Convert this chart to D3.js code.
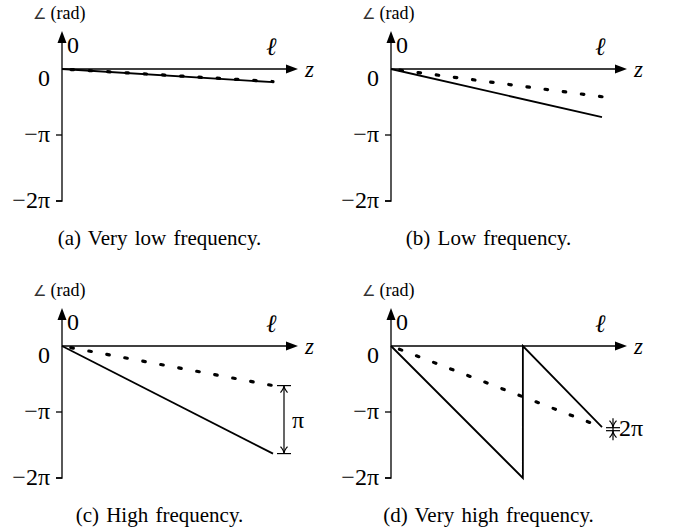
<!DOCTYPE html>
<html>
<head>
<meta charset="utf-8">
<script src="https://cdn.jsdelivr.net/npm/d3@7"></script>
<style>
  body { margin: 0; background: #fff; }
  text { font-family: "Liberation Serif", "Times New Roman", serif; fill: #000; }
</style>
</head>
<body>
<div class="phase_box"></div>
<script>
// phase values are in units of pi, z in units of l
var captions = ["(a) Very low frequency.", "(b) Low frequency.", "(c) High frequency.", "(d) Very high frequency."];
var tickValues = [0, -1, -2];
var tickLabels = ["0", "\u2212\u03c0", "\u22122\u03c0"];
var solidPhase = [
  [[0, 0], [1, -0.2]],
  [[0, 0], [1, -0.73]],
  [[0, 0], [1, -1.63]],
  [[0, 0], [0.625, -2], [0.625, 0], [1, -1.23]]
];
var dashedPhase = [
  [[0, 0], [1, -0.19]],
  [[0, 0], [1, -0.42]],
  [[0, 0], [1, -0.6]],
  [[0, 0], [1, -1.23]]
];
var gapLabels = [null, null, "\u03c0", "2\u03c0"];

var width = 676, height = 528;
var origins = [[62, 69], [391, 69], [62, 346], [391, 346]];

var svg = d3.select('.phase_box')
            .append("svg")
            .attr("width", width)
            .attr("height", height);

var x = d3.scaleLinear().domain([0, 1]).range([0, 211]);
var y = d3.scaleLinear().domain([0, -2]).range([0, 132]);

var line = d3.line()
  .x(function(d) { return x(d[0]); })
  .y(function(d) { return y(d[1]); });

function openHead(g, cx, cy, dir) {
  // little "to" style arrowhead, dir = 1 points down, -1 points up
  g.append("path")
    .attr("d", "M" + (cx - 3.5) + "," + (cy - dir * 7) + " Q" + cx + "," + (cy - dir * 3) + " " + cx + "," + cy +
               " Q" + cx + "," + (cy - dir * 3) + " " + (cx + 3.5) + "," + (cy - dir * 7))
    .attr("fill", "none")
    .attr("stroke", "black")
    .attr("stroke-width", 1.2);
}

captions.forEach(function(cap, i) {
  var g = svg.append("g")
    .attr("transform", "translate(" + origins[i][0] + "," + origins[i][1] + ")");

  // axes
  g.append("path")
    .attr("d", "M-6," + y(-2) + " H0 V-28")
    .attr("fill", "none")
    .attr("stroke", "black")
    .attr("stroke-width", 1.3);
  g.append("path")
    .attr("d", "M0,-38 L-4.5,-26 L4.5,-26 Z")
    .attr("fill", "black");
  g.append("line")
    .attr("x1", 0).attr("y1", 0)
    .attr("x2", 226).attr("y2", 0)
    .attr("stroke", "black")
    .attr("stroke-width", 1.3);
  g.append("path")
    .attr("d", "M236,0 L224,-4.5 L224,4.5 Z")
    .attr("fill", "black");

  tickValues.forEach(function(v, k) {
    if (v !== 0) {
      g.append("line")
        .attr("x1", -6).attr("x2", 0)
        .attr("y1", y(v)).attr("y2", y(v))
        .attr("stroke", "black")
        .attr("stroke-width", 1.3);
    }
    g.append("text")
      .attr("x", -12)
      .attr("y", y(v) + (v === 0 ? 17 : 7))
      .attr("text-anchor", "end")
      .attr("font-size", "24px")
      .text(tickLabels[k]);
  });

  var lab = g.append("text")
    .attr("x", -29).attr("y", -50)
    .attr("font-size", "18px");
  lab.append("tspan").attr("font-size", "15px").attr("fill", "#333").text("\u2220");
  lab.append("tspan").text(" (rad)");
  g.append("text")
    .attr("x", 5).attr("y", -16)
    .attr("font-size", "24px")
    .text("0");
  g.append("text")
    .attr("x", x(1) - 7).attr("y", -14)
    .attr("font-size", "25px")
    .attr("font-style", "italic")
    .text("\u2113");
  g.append("text")
    .attr("x", 243).attr("y", 8)
    .attr("font-size", "23px")
    .attr("font-style", "italic")
    .text("z");

  // phase curves
  g.append("path")
    .datum(solidPhase[i])
    .attr("d", line)
    .attr("fill", "none")
    .attr("stroke", "black")
    .attr("stroke-width", 1.8);
  g.append("path")
    .datum(dashedPhase[i])
    .attr("d", line)
    .attr("fill", "none")
    .attr("stroke", "black")
    .attr("stroke-width", 3.2)
    .attr("stroke-linecap", "round")
    .attr("stroke-dasharray", "2.5,15.8")
    .attr("stroke-dashoffset", -9);

  // phase difference marker
  if (gapLabels[i]) {
    var dEnd = dashedPhase[i][dashedPhase[i].length - 1][1];
    var sEnd = solidPhase[i][solidPhase[i].length - 1][1];
    var mx = x(1) + 11;
    if (Math.abs(dEnd - sEnd) > 0.05) {
      var y1 = y(dEnd), y2 = y(sEnd);
      g.append("line").attr("x1", mx - 7).attr("x2", mx + 7).attr("y1", y1).attr("y2", y1)
        .attr("stroke", "black").attr("stroke-width", 1.2);
      g.append("line").attr("x1", mx - 7).attr("x2", mx + 7).attr("y1", y2).attr("y2", y2)
        .attr("stroke", "black").attr("stroke-width", 1.2);
      g.append("line").attr("x1", mx).attr("x2", mx).attr("y1", y1).attr("y2", y2)
        .attr("stroke", "black").attr("stroke-width", 1.2);
      openHead(g, mx, y1, -1);
      openHead(g, mx, y2, 1);
      g.append("text")
        .attr("x", mx + 8).attr("y", (y1 + y2) / 2 + 8)
        .attr("font-size", "24px")
        .text(gapLabels[i]);
    } else {
      var y0 = y(dEnd) + 2;
      g.append("line").attr("x1", mx - 7).attr("x2", mx + 7).attr("y1", y0 - 1.5).attr("y2", y0 - 1.5)
        .attr("stroke", "black").attr("stroke-width", 1.2);
      g.append("line").attr("x1", mx - 7).attr("x2", mx + 7).attr("y1", y0 + 1.5).attr("y2", y0 + 1.5)
        .attr("stroke", "black").attr("stroke-width", 1.2);
      g.append("line").attr("x1", mx).attr("x2", mx).attr("y1", y0 - 11).attr("y2", y0 + 11)
        .attr("stroke", "black").attr("stroke-width", 1.2);
      openHead(g, mx, y0 - 1.5, 1);
      openHead(g, mx, y0 + 1.5, -1);
      g.append("text")
        .attr("x", mx + 6).attr("y", y0 + 7)
        .attr("font-size", "24px")
        .text(gapLabels[i]);
    }
  }

  g.append("text")
    .attr("x", x(0.462)).attr("y", 176)
    .attr("text-anchor", "middle")
    .attr("font-size", "21px")
    .attr("word-spacing", "2px")
    .text(cap);
});
</script>
</body>
</html>
